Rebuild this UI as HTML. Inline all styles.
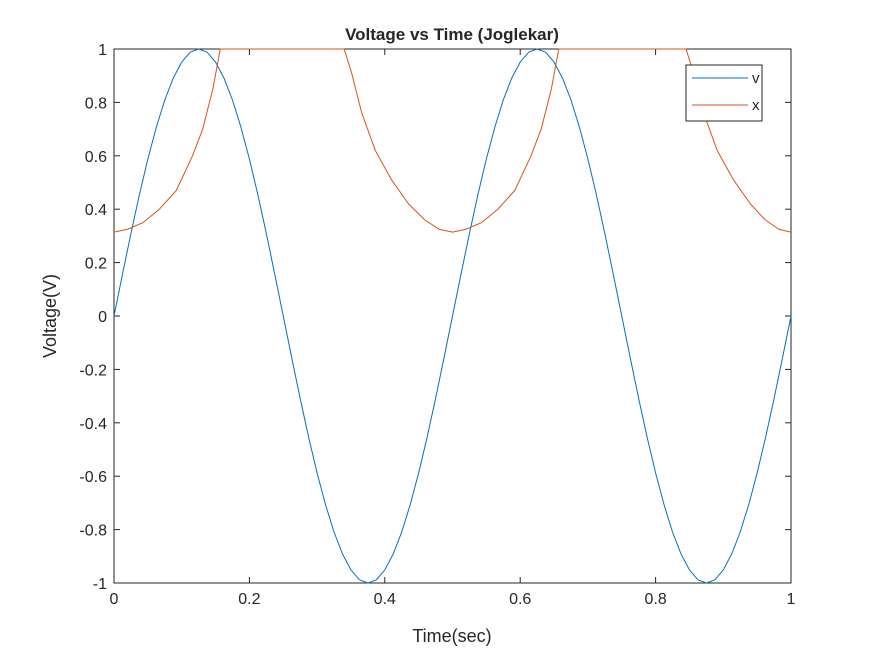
<!DOCTYPE html>
<html><head><meta charset="utf-8"><style>
html,body{margin:0;padding:0;background:#fff}
svg text{font-family:"Liberation Sans",Arial,sans-serif;fill:#262626}
</style></head><body>
<svg id="chart" width="875" height="656" viewBox="0 0 875 656">
<rect width="875" height="656" fill="#fff"/>
<rect x="114" y="49" width="677" height="534" fill="#fff" stroke="#262626" stroke-width="1"/>
<g id="ticks"></g>
<g id="series"></g>
<text x="452" y="40" text-anchor="middle" font-size="17" font-weight="bold" fill="#000">Voltage vs Time (Joglekar)</text>
<text x="452" y="642" text-anchor="middle" font-size="18">Time(sec)</text>
<text transform="translate(56,316) rotate(-90)" text-anchor="middle" font-size="18">Voltage(V)</text>
<g>
<rect x="686" y="65" width="76" height="56" fill="#fff" stroke="#262626" stroke-width="1"/>
<line x1="692" y1="78" x2="748" y2="78" stroke="#0072BD" stroke-width="1"/>
<text x="752" y="83" font-size="15">v</text>
<line x1="692" y1="105" x2="748" y2="105" stroke="#D95319" stroke-width="1"/>
<text x="752" y="110" font-size="15">x</text>
</g>
</svg>
<script>
const xTicks=[0,0.2,0.4,0.6,0.8,1];
const xTickLabels=["0","0.2","0.4","0.6","0.8","1"];
const yTicks=[1,0.8,0.6,0.4,0.2,0,-0.2,-0.4,-0.6,-0.8,-1];
const yTickLabels=["1","0.8","0.6","0.4","0.2","0","-0.2","-0.4","-0.6","-0.8","-1"];
const vT=[0,0.0125,0.025,0.0375,0.05,0.0625,0.075,0.0875,0.1,0.1125,0.125,0.1375,0.15,0.1625,0.175,0.1875,0.2,0.2125,0.225,0.2375,0.25,0.2625,0.275,0.2875,0.3,0.3125,0.325,0.3375,0.35,0.3625,0.375,0.3875,0.4,0.4125,0.425,0.4375,0.45,0.4625,0.475,0.4875,0.5,0.5125,0.525,0.5375,0.55,0.5625,0.575,0.5875,0.6,0.6125,0.625,0.6375,0.65,0.6625,0.675,0.6875,0.7,0.7125,0.725,0.7375,0.75,0.7625,0.775,0.7875,0.8,0.8125,0.825,0.8375,0.85,0.8625,0.875,0.8875,0.9,0.9125,0.925,0.9375,0.95,0.9625,0.975,0.9875,1];
const vV=[0,0.156,0.309,0.454,0.588,0.707,0.809,0.891,0.951,0.988,1,0.988,0.951,0.891,0.809,0.707,0.588,0.454,0.309,0.156,0,-0.156,-0.309,-0.454,-0.588,-0.707,-0.809,-0.891,-0.951,-0.988,-1,-0.988,-0.951,-0.891,-0.809,-0.707,-0.588,-0.454,-0.309,-0.156,0,0.156,0.309,0.454,0.588,0.707,0.809,0.891,0.951,0.988,1,0.988,0.951,0.891,0.809,0.707,0.588,0.454,0.309,0.156,0,-0.156,-0.309,-0.454,-0.588,-0.707,-0.809,-0.891,-0.951,-0.988,-1,-0.988,-0.951,-0.891,-0.809,-0.707,-0.588,-0.454,-0.309,-0.156,0];
const xT=[0,0.02,0.043,0.067,0.092,0.116,0.131,0.146,0.157,0.34,0.351,0.366,0.386,0.41,0.435,0.459,0.48,0.5,0.52,0.543,0.567,0.592,0.616,0.631,0.646,0.657,0.845,0.856,0.871,0.891,0.915,0.94,0.962,0.982,1];
const xV=[0.314,0.325,0.35,0.40,0.47,0.60,0.70,0.85,1,1,0.91,0.76,0.62,0.51,0.42,0.36,0.325,0.314,0.325,0.35,0.40,0.47,0.60,0.70,0.85,1,1,0.91,0.76,0.62,0.51,0.42,0.36,0.325,0.314];
const NS="http://www.w3.org/2000/svg";
const X0=114,X1=791,Y0=583,Y1=49;
function sx(t){return X0+(t-0)/(1-0)*(X1-X0);}
function sy(v){return Y0-(v+1)/2*(Y0-Y1);}
const tg=document.getElementById('ticks');
xTicks.forEach((t,i)=>{
  const l=document.createElementNS(NS,'line');
  l.setAttribute('x1',sx(t));l.setAttribute('x2',sx(t));l.setAttribute('y1',Y0);l.setAttribute('y2',Y0-6);
  l.setAttribute('stroke','#262626');
  
  
  tg.appendChild(l);
  const l2=document.createElementNS(NS,'line');
  l2.setAttribute('x1',sx(t));l2.setAttribute('x2',sx(t));l2.setAttribute('y1',Y1);l2.setAttribute('y2',Y1+6);
  l2.setAttribute('stroke','#262626');
  
  
  tg.appendChild(l2);
  const tx=document.createElementNS(NS,'text');
  tx.setAttribute('x',sx(t));tx.setAttribute('y',Y0+21);tx.setAttribute('text-anchor','middle');tx.setAttribute('font-size','16');
  tx.textContent=xTickLabels[i];
  
  
  tg.appendChild(tx);
});
yTicks.forEach((v,i)=>{
  const l=document.createElementNS(NS,'line');
  l.setAttribute('x1',X0);l.setAttribute('x2',X0+6);l.setAttribute('y1',sy(v));l.setAttribute('y2',sy(v));
  l.setAttribute('stroke','#262626');
  
  
  tg.appendChild(l);
  const l2=document.createElementNS(NS,'line');
  l2.setAttribute('x1',X1);l2.setAttribute('x2',X1-6);l2.setAttribute('y1',sy(v));l2.setAttribute('y2',sy(v));
  l2.setAttribute('stroke','#262626');
  
  
  tg.appendChild(l2);
  const tx=document.createElementNS(NS,'text');
  tx.setAttribute('x',X0-7);tx.setAttribute('y',sy(v)+6);tx.setAttribute('text-anchor','end');tx.setAttribute('font-size','16');
  tx.textContent=yTickLabels[i];
  
  
  tg.appendChild(tx);
});
const sg=document.getElementById('series');
function addLine(ts,vs,color,name){
  const p=document.createElementNS(NS,'polyline');
  p.setAttribute('points',ts.map((t,i)=>sx(t).toFixed(2)+','+sy(vs[i]).toFixed(2)).join(' '));
  p.setAttribute('fill','none');p.setAttribute('stroke',color);p.setAttribute('stroke-width','1');
  p.setAttribute('stroke-linejoin','round');
  
  
  sg.appendChild(p);
}
addLine(vT,vV,'#0072BD','series-v-line');
addLine(xT,xV,'#D95319','series-x-line');
</script>
</body></html>
